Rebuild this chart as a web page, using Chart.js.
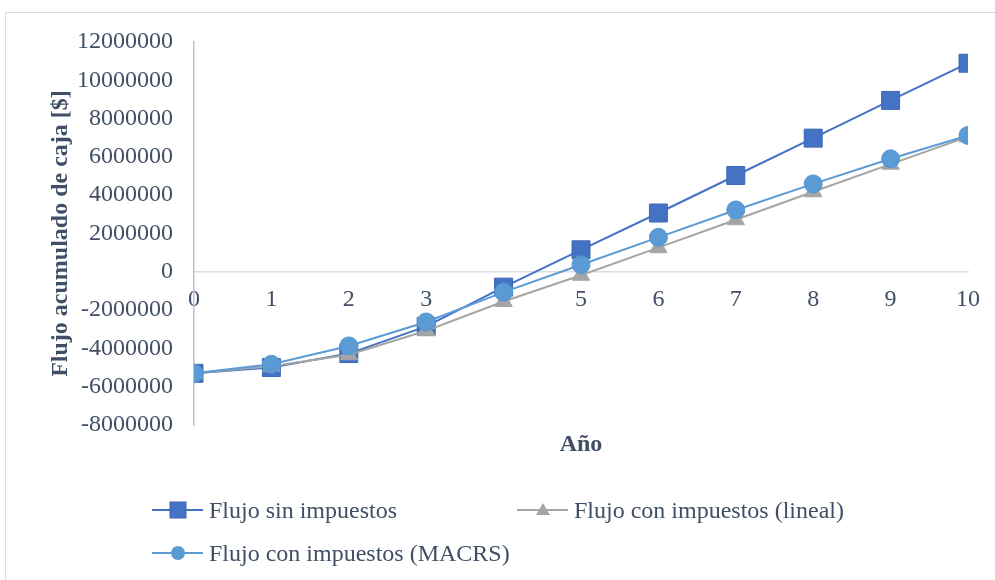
<!DOCTYPE html>
<html lang="es">
<head>
<meta charset="utf-8">
<title>Flujo acumulado de caja</title>
<script src="https://cdn.jsdelivr.net/npm/chart.js@4.4.1/dist/chart.umd.min.js"></script>
<style>
  html, body { margin: 0; padding: 0; background: #ffffff; overflow: hidden; }
  #wrap { position: relative; width: 995px; height: 580px; overflow: hidden; }
  #frame { position: absolute; left: 5px; top: 12px; width: 1010px; height: 600px;
           border: 1px solid #d9dde3; box-sizing: border-box; pointer-events: none; }
  canvas { position: absolute; left: 0; top: 0; }
  .leg { position: absolute; height: 30px; display: flex; align-items: center;
         font-family: "Liberation Serif", "Times New Roman", serif; font-size: 24px;
         color: #404f65; white-space: nowrap; }
  .leg svg { margin-right: 6px; }
</style>
</head>
<body>
<div id="wrap">
  <div id="frame"></div>
  <canvas id="c" width="995" height="580"></canvas>
  <div class="leg" style="left:152px; top:495px;">
    <svg width="51" height="20" viewBox="0 0 51 20"><line x1="0" y1="10" x2="51" y2="10" stroke="#4472C4" stroke-width="2"/><rect x="18" y="2" width="16" height="16" fill="#4472C4" stroke="#3d67b5" stroke-width="1"/></svg>
    <span>Flujo sin impuestos</span>
  </div>
  <div class="leg" style="left:517px; top:495px;">
    <svg width="51" height="20" viewBox="0 0 51 20"><line x1="0" y1="10" x2="51" y2="10" stroke="#A5A5A5" stroke-width="2"/><polygon points="26,3 33,15 19,15" fill="#A5A5A5"/></svg>
    <span>Flujo con impuestos (lineal)</span>
  </div>
  <div class="leg" style="left:152px; top:538px;">
    <svg width="51" height="20" viewBox="0 0 51 20"><line x1="0" y1="10" x2="51" y2="10" stroke="#5B9BD5" stroke-width="2"/><circle cx="26" cy="10" r="7" fill="#5B9BD5"/></svg>
    <span>Flujo con impuestos (MACRS)</span>
  </div>
</div>
<script>
// Años del horizonte de evaluación
const years = [0, 1, 2, 3, 4, 5, 6, 7, 8, 9, 10];

// Flujo acumulado de caja [$] por escenario
const flujoSinImpuestos = [-5300000, -5000000, -4270000, -2850000, -800000, 1150000, 3070000, 5030000, 6980000, 8950000, 10890000];
const flujoLineal       = [-5300000, -4930000, -4330000, -3080000, -1550000, -180000, 1260000, 2720000, 4180000, 5620000, 7050000];
const flujoMacrs        = [-5300000, -4830000, -3870000, -2620000, -1060000, 370000, 1800000, 3230000, 4590000, 5900000, 7120000];

// Marcas del eje vertical
const yTicks = [-8000000, -6000000, -4000000, -2000000, 0, 2000000, 4000000, 6000000, 8000000, 10000000, 12000000];

const FONT = '"Liberation Serif", "Times New Roman", serif';
const TEXT = '#404f65';

const toPoints = arr => arr.map((v, i) => ({ x: years[i], y: v }));

new Chart(document.getElementById('c'), {
  type: 'line',
  data: {
    datasets: [
      {
        label: 'Flujo con impuestos (MACRS)',
        data: toPoints(flujoMacrs),
        borderColor: '#5B9BD5', backgroundColor: '#5B9BD5',
        borderWidth: 2, pointStyle: 'circle', pointRadius: 9,
        pointBackgroundColor: '#5B9BD5', pointBorderColor: '#5696d0', pointBorderWidth: 1,
        order: 0
      },
      {
        label: 'Flujo con impuestos (lineal)',
        data: toPoints(flujoLineal),
        borderColor: '#A5A5A5', backgroundColor: '#A5A5A5',
        borderWidth: 2, pointStyle: 'triangle', pointRadius: 10,
        pointBackgroundColor: '#A5A5A5', pointBorderColor: '#A5A5A5', pointBorderWidth: 1,
        order: 1
      },
      {
        label: 'Flujo sin impuestos',
        data: toPoints(flujoSinImpuestos),
        borderColor: '#4472C4', backgroundColor: '#4472C4',
        borderWidth: 2, pointStyle: 'rect', pointRadius: 12.7,
        pointBackgroundColor: '#4472C4', pointBorderColor: '#3d67b5', pointBorderWidth: 1,
        order: 2
      }
    ]
  },
  options: {
    responsive: false,
    animation: false,
    devicePixelRatio: 1,
    layout: { padding: { left: 32, right: 27, top: 42, bottom: 115 } },
    plugins: { legend: { display: false }, tooltip: { enabled: false } },
    scales: {
      x: {
        type: 'linear',
        position: { y: 0 },
        min: 0, max: 10,
        grid: { display: false, drawTicks: false },
        border: { display: true, color: '#d9dee6', width: 1.5 },
        ticks: {
          stepSize: 1, padding: 14, color: TEXT,
          font: { family: FONT, size: 24 },
          callback: v => String(v)
        }
      },
      xTitle: {
        type: 'linear',
        position: 'bottom',
        min: 0, max: 10,
        grid: { display: false, drawTicks: false },
        border: { display: false },
        ticks: { display: false },
        afterFit: s => { s.height = 40; },
        title: {
          display: true, text: 'Año', color: TEXT,
          font: { family: FONT, size: 24, weight: 'bold' },
          padding: { top: 6, bottom: 6 }
        }
      },
      y: {
        type: 'linear',
        position: 'left',
        min: -8000000, max: 12000000,
        grid: { display: false, drawTicks: false },
        border: { display: true, color: '#b8c2d2', width: 1.5 },
        afterFit: s => { s.width = 162; },
        afterBuildTicks: s => { s.ticks = yTicks.map(v => ({ value: v })); },
        ticks: {
          padding: 21, color: TEXT,
          font: { family: FONT, size: 24 },
          callback: v => String(v)
        },
        title: {
          display: true, text: 'Flujo acumulado de caja [$]', color: TEXT,
          font: { family: FONT, size: 24, weight: 'bold' },
          padding: { top: 14, bottom: 0 }
        }
      }
    }
  }
});
</script>
</body>
</html>
